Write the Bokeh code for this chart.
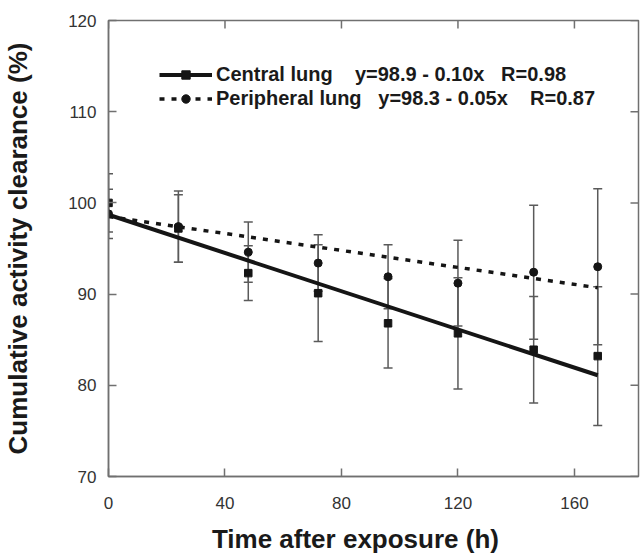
import math
from bokeh.plotting import figure
from bokeh.models import (Range1d, FixedTicker, Whisker, TeeHead,
                          ColumnDataSource, Legend, LegendItem)
from bokeh.embed import file_html
from bokeh.resources import INLINE

# ---- data ----
time_h = [0, 24, 48, 72, 96, 120, 146, 168]
central = [100.0, 97.2, 92.3, 90.1, 86.8, 85.7, 83.9, 83.2]
central_sd = [3.2, 3.7, 3.0, 5.3, 4.9, 6.1, 5.85, 7.6]
peripheral = [98.8, 97.4, 94.6, 93.4, 91.9, 91.2, 92.4, 93.0]
peripheral_sd = [2.7, 3.9, 3.3, 3.1, 3.5, 4.7, 7.35, 8.55]

fit_x = [0, 168]
central_fit = [98.7, 81.1]
peripheral_fit = [98.5, 90.7]

x_ticks = [0, 40, 80, 120, 160]
y_ticks = [70, 80, 90, 100, 110, 120]
x_min, x_max = 0, 182
y_min, y_max = 70, 120

NB = "\u00a0"
label_central = "Central lung" + NB * 4 + "y=98.9 - 0.10x" + NB * 3 + "R=0.98"
label_peripheral = "Peripheral lung" + NB * 3 + "y=98.3 - 0.05x" + NB * 4 + "R=0.87"
x_title = "Time after exposure (h)" + NB * 5
y_title = "Cumulative activity clearance (%)"

FONT = "Liberation Sans"
AXIS_COLOR = "#707070"
BAR_COLOR = "#5a5a5a"
INK = "#151515"

p = figure(width=640, height=556, output_backend="svg", toolbar_location=None,
           x_range=Range1d(x_min, x_max), y_range=Range1d(y_min, y_max),
           min_border_left=108, min_border_right=2, min_border_top=20,
           min_border_bottom=76)
p.grid.visible = False
p.outline_line_color = AXIS_COLOR
p.outline_line_width = 1.5
p.background_fill_color = "white"
p.border_fill_color = "white"


def style_axis(ax, ticks):
    ax.ticker = FixedTicker(ticks=ticks)
    ax.axis_line_color = AXIS_COLOR
    ax.axis_line_width = 1.5
    ax.major_tick_line_color = AXIS_COLOR
    ax.major_tick_line_width = 1.5
    ax.major_tick_in = 8
    ax.major_tick_out = 0
    ax.minor_tick_line_color = None
    ax.major_label_text_font = FONT
    ax.major_label_text_color = "#333333"
    ax.major_label_text_font_size = "17px"
    ax.axis_label_text_font = FONT
    ax.axis_label_text_font_style = "bold"
    ax.axis_label_text_font_size = "26px"
    ax.axis_label_text_color = "#1a1a1a"


xa = p.xaxis[0]
style_axis(xa, x_ticks)
xa.axis_label = x_title
xa.major_label_standoff = 20
xa.axis_label_standoff = 12

ya = p.yaxis[0]
style_axis(ya, y_ticks)
ya.axis_label = y_title
ya.major_label_standoff = 12
ya.axis_label_standoff = 32

# inward tick marks on the top and right frame edges (clipped to the frame)
p.scatter(x_ticks, [y_max] * len(x_ticks), marker="dash", size=16,
          angle=math.pi / 2, line_color=AXIS_COLOR, line_width=1.5)
p.scatter([x_max] * len(y_ticks), y_ticks, marker="dash", size=16,
          line_color=AXIS_COLOR, line_width=1.5)

# ---- error bars ----
src_c = ColumnDataSource(dict(
    x=time_h, y=central,
    lower=[v - s for v, s in zip(central, central_sd)],
    upper=[v + s for v, s in zip(central, central_sd)]))
src_p = ColumnDataSource(dict(
    x=time_h, y=peripheral,
    lower=[v - s for v, s in zip(peripheral, peripheral_sd)],
    upper=[v + s for v, s in zip(peripheral, peripheral_sd)]))

for src in (src_c, src_p):
    w = Whisker(source=src, base="x", lower="lower", upper="upper",
                line_color=BAR_COLOR, line_width=1.5, level="underlay",
                upper_head=TeeHead(size=9, line_color=BAR_COLOR, line_width=1.5),
                lower_head=TeeHead(size=9, line_color=BAR_COLOR, line_width=1.5))
    p.add_layout(w)

# ---- regression lines ----
line_c = p.line(fit_x, central_fit, line_width=4, line_color=INK)
line_p = p.line(fit_x, peripheral_fit, line_width=3.5, line_color=INK,
                line_dash="5 7")

# ---- markers ----
sc_c = p.scatter("x", "y", source=src_c, marker="square", size=7.5,
                 fill_color=INK, line_color=INK)
sc_p = p.scatter("x", "y", source=src_p, marker="circle", size=8,
                 fill_color=INK, line_color=INK)

legend = Legend(items=[
    LegendItem(label=label_central, renderers=[line_c, sc_c]),
    LegendItem(label=label_peripheral, renderers=[line_p, sc_p]),
], location=(51, 366), orientation="vertical",
    border_line_color=None, background_fill_alpha=0,
    padding=0, margin=0, spacing=1, glyph_width=53, glyph_height=21,
    label_standoff=4, label_height=21,
    label_text_font=FONT, label_text_font_style="bold",
    label_text_font_size="20px", label_text_color="#1a1a1a")
p.add_layout(legend)

open("out.html", "w").write(file_html(p, INLINE))
